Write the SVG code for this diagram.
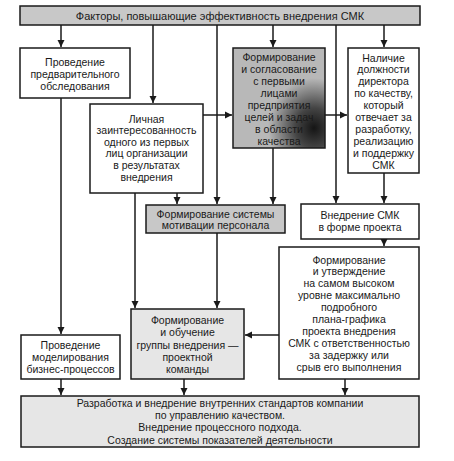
<svg xmlns="http://www.w3.org/2000/svg" width="454" height="461" viewBox="0 0 454 461">
<defs>
<style>
text{font-family:"Liberation Sans",Arial,sans-serif;font-size:10.5px;fill:#1a1a1a;text-anchor:middle}
.t{font-size:11px}
.box{stroke:#1a1a1a;stroke-width:1.5;fill:#fff}
.g1{fill:#c8c8c8}
.g2{fill:#e6e6e6}
.dk{fill:url(#dark)}
.c{stroke:#1a1a1a;stroke-width:1.5;fill:none}
</style>
<radialGradient id="dark" cx="0.88" cy="0.8" r="0.5">
<stop offset="0" stop-color="#151515"/>
<stop offset="0.4" stop-color="#444"/>
<stop offset="1" stop-color="#b8b8b8"/>
</radialGradient>
<marker id="a" markerWidth="8" markerHeight="8" refX="7" refY="4" orient="auto" markerUnits="userSpaceOnUse">
<path d="M0,0.5 L7,4 L0,7.5 Z" fill="#1a1a1a"/>
</marker>
</defs>
<rect width="454" height="461" fill="#fff"/>
<g id="connectors">
<path class="c" d="M61,25 V47" marker-end="url(#a)"/>
<path class="c" d="M153,25 V103" marker-end="url(#a)"/>
<path class="c" d="M217,25 V204" marker-end="url(#a)"/>
<path class="c" d="M273,25 V47" marker-end="url(#a)"/>
<path class="c" d="M336,25 V203" marker-end="url(#a)"/>
<path class="c" d="M384,25 V47" marker-end="url(#a)"/>
<path class="c" d="M203,115 H232" marker-end="url(#a)"/>
<path class="c" d="M325,115 H347" marker-end="url(#a)"/>
<path class="c" d="M61,98 V334" marker-end="url(#a)"/>
<path class="c" d="M135,193 V308" marker-end="url(#a)"/>
<path class="c" d="M177,193 V204" marker-end="url(#a)"/>
<path class="c" d="M273,148 V204" marker-end="url(#a)"/>
<path class="c" d="M384,173 V203" marker-end="url(#a)"/>
<path class="c" d="M384,239 V246" marker-end="url(#a)"/>
<path class="c" d="M217,233 V308" marker-end="url(#a)"/>
<path class="c" d="M279,335 H245" marker-end="url(#a)"/>
<path class="c" d="M61,379 V395" marker-end="url(#a)"/>
<path class="c" d="M184,379 V395" marker-end="url(#a)"/>
<path class="c" d="M345,379 V395" marker-end="url(#a)"/>
</g>
<g id="title">
<rect class="box g1" x="20" y="6" width="400" height="19"/>
<text class="t" x="220" y="19.5">Факторы, повышающие  эффективность внедрения СМК</text>
</g>
<g id="n1">
<rect class="box" x="20" y="48" width="110" height="50"/>
<text x="75" y="65.5">Проведение</text>
<text x="75" y="77.5">предварительного</text>
<text x="75" y="89.5">обследования</text>
</g>
<g id="n2">
<rect class="box" x="90" y="104" width="113" height="89"/>
<text x="146.5" y="122.5">Личная</text>
<text x="146.5" y="134.1">заинтересованность</text>
<text x="146.5" y="145.7">одного из первых</text>
<text x="146.5" y="157.3">лиц организации</text>
<text x="146.5" y="168.9">в результатах</text>
<text x="146.5" y="180.5">внедрения</text>
</g>
<g id="n3">
<rect class="box dk" x="233" y="48" width="92" height="100"/>
<text x="279" y="60.5">Формирование</text>
<text x="279" y="72.6">и согласование</text>
<text x="279" y="84.7">с первыми</text>
<text x="279" y="96.8">лицами</text>
<text x="279" y="108.9">предприятия</text>
<text x="279" y="121">целей и задач</text>
<text x="279" y="133.1">в области</text>
<text x="279" y="145.2">качества</text>
</g>
<g id="n4">
<rect class="box" x="348" y="48" width="71" height="125"/>
<text x="383.5" y="61.5">Наличие</text>
<text x="383.5" y="73.4">должности</text>
<text x="383.5" y="85.3">директора</text>
<text x="383.5" y="97.2">по качеству,</text>
<text x="383.5" y="109.1">который</text>
<text x="383.5" y="121">отвечает за</text>
<text x="383.5" y="132.9">разработку,</text>
<text x="383.5" y="144.8">реализацию</text>
<text x="383.5" y="156.7">и поддержку</text>
<text x="383.5" y="168.6">СМК</text>
</g>
<g id="n5">
<rect class="box g1" x="146" y="205" width="139" height="28"/>
<text x="215.5" y="217.5">Формирование системы</text>
<text x="215.5" y="228.8">мотивации персонала</text>
</g>
<g id="n6">
<rect class="box" x="301" y="204" width="118" height="35"/>
<text x="360" y="218.5">Внедрение СМК</text>
<text x="360" y="230.5">в форме проекта</text>
</g>
<g id="n7">
<rect class="box" x="279" y="247" width="140" height="132"/>
<text x="349" y="263.5">Формирование</text>
<text x="349" y="275.4">и утверждение</text>
<text x="349" y="287.3">на самом высоком</text>
<text x="349" y="299.2">уровне максимально</text>
<text x="349" y="311.1">подробного</text>
<text x="349" y="323">плана-графика</text>
<text x="349" y="334.9">проекта внедрения</text>
<text x="349" y="346.8">СМК с  ответственностью</text>
<text x="349" y="358.7">за задержку или</text>
<text x="349" y="370.6">срыв его выполнения</text>
</g>
<g id="n8">
<rect class="box g2" x="131" y="309" width="113" height="70"/>
<text x="187.5" y="323.5">Формирование</text>
<text x="187.5" y="336">и обучение</text>
<text x="187.5" y="348.5">группы внедрения —</text>
<text x="187.5" y="361">проектной</text>
<text x="187.5" y="373">команды</text>
</g>
<g id="n9">
<rect class="box" x="21" y="335" width="99" height="44"/>
<text x="70.5" y="348.5">Проведение</text>
<text x="70.5" y="360.5">моделирования</text>
<text x="70.5" y="372.5">бизнес-процессов</text>
</g>
<g id="n10">
<rect class="box g2" x="21" y="396" width="398" height="51"/>
<text x="220" y="406.7">Разработка и внедрение внутренних стандартов компании</text>
<text x="220" y="419">по управлению качеством.</text>
<text x="220" y="431.3">Внедрение процессного подхода.</text>
<text x="220" y="443.6">Создание системы показателей деятельности</text>
</g>
</svg>
